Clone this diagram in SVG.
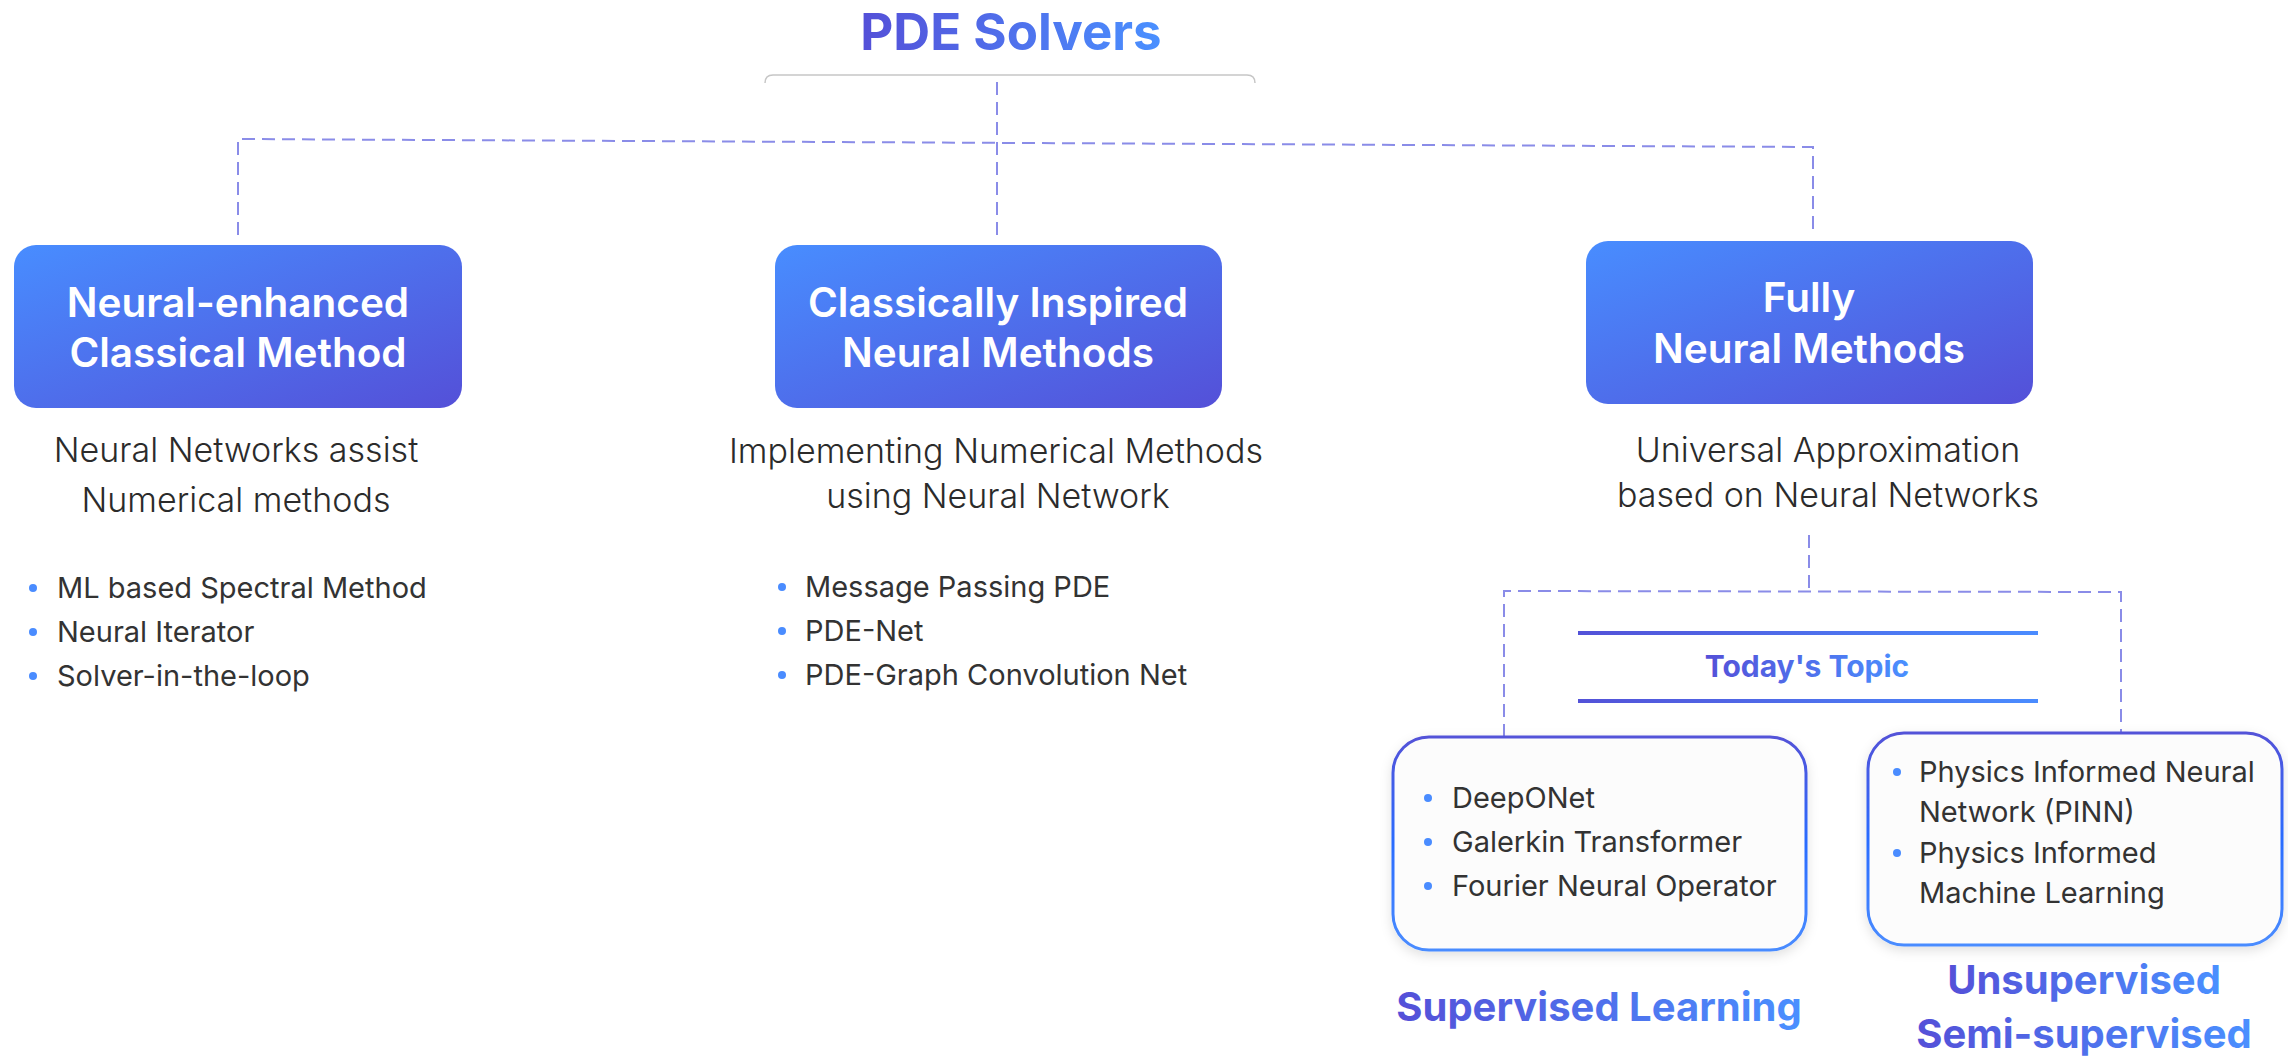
<svg xmlns="http://www.w3.org/2000/svg" width="2288" height="1058" viewBox="0 0 2288 1058">
<defs>
  <linearGradient id="gBox" x1="0" y1="0" x2="1" y2="1">
    <stop offset="0" stop-color="#488dff"/>
    <stop offset="1" stop-color="#5450d8"/>
  </linearGradient>
  <linearGradient id="gText" x1="0" y1="0" x2="1" y2="0">
    <stop offset="0" stop-color="#5450d8"/>
    <stop offset="1" stop-color="#4a90ff"/>
  </linearGradient>
  <linearGradient id="gLine" x1="0" y1="0" x2="1" y2="0">
    <stop offset="0" stop-color="#5352d8"/>
    <stop offset="1" stop-color="#4a8cff"/>
  </linearGradient>
  <linearGradient id="gBorder" x1="0" y1="0" x2="0" y2="1">
    <stop offset="0" stop-color="#5352d8"/>
    <stop offset="0.5" stop-color="#2a6cff"/>
    <stop offset="1" stop-color="#4a8cff"/>
  </linearGradient>
  <filter id="shadow" x="-10%" y="-10%" width="120%" height="130%">
    <feDropShadow dx="0" dy="4" stdDeviation="6" flood-color="#000" flood-opacity="0.12"/>
  </filter>
</defs>
<style>
  .t { font-family: Inter, "Noto Sans", sans-serif; }
  .title { font-size: 51px; font-weight: 700; fill: url(#gText); }
  .head { font-size: 40.5px; font-weight: 600; fill: #ffffff; text-anchor: middle; }
  .desc { font-size: 34px; font-weight: 300; fill: #2b2b2b; text-anchor: middle; }
  .item { font-size: 29px; font-weight: 400; fill: #333333; }
  .bullet { fill: #4a8cff; }
  .conn { fill: none; stroke: #8a8ce8; stroke-width: 2; stroke-dasharray: 13 7; }
  .topic { font-size: 30px; font-weight: 700; fill: url(#gText); text-anchor: middle; }
  .label { font-size: 40px; font-weight: 700; fill: url(#gText); text-anchor: middle; }
  .card { fill: #fcfcfc; stroke: url(#gBorder); stroke-width: 3; filter: url(#shadow); }
</style>

<g id="root">
  <text class="t title" x="1011" y="50" text-anchor="middle">PDE Solvers</text>
  <path d="M765,83 Q765,75 773,75 H1247 Q1255,75 1255,83" fill="none" stroke="#c6c6c6" stroke-width="1.5"/>
</g>

<g id="connectors">
  <path class="conn" d="M997,82 V235"/>
  <path class="conn" d="M238,235 V139 L1813,147 V236"/>
  <path class="conn" d="M1809,535 V591"/>
  <path class="conn" d="M1504,737 V591 L2121,592 V733"/>
</g>

<g id="node-neural-enhanced">
  <rect x="14" y="245" width="448" height="163" rx="22" fill="url(#gBox)"/>
  <text class="t head" x="238" y="317">Neural-enhanced</text>
  <text class="t head" x="238" y="367">Classical Method</text>
  <text class="t desc" x="236" y="462">Neural Networks assist</text>
  <text class="t desc" x="236" y="512">Numerical methods</text>
  <circle class="bullet" cx="33" cy="588" r="4"/>
  <circle class="bullet" cx="33" cy="632" r="4"/>
  <circle class="bullet" cx="33" cy="676" r="4"/>
  <text class="t item" x="57" y="598">ML based Spectral Method</text>
  <text class="t item" x="57" y="642">Neural Iterator</text>
  <text class="t item" x="57" y="686">Solver-in-the-loop</text>
</g>

<g id="node-classically-inspired">
  <rect x="775" y="245" width="447" height="163" rx="22" fill="url(#gBox)"/>
  <text class="t head" x="998" y="317">Classically Inspired</text>
  <text class="t head" x="998" y="367">Neural Methods</text>
  <text class="t desc" x="996" y="463">Implementing Numerical Methods</text>
  <text class="t desc" x="998" y="508">using Neural Network</text>
  <circle class="bullet" cx="782" cy="587" r="4"/>
  <circle class="bullet" cx="782" cy="631" r="4"/>
  <circle class="bullet" cx="782" cy="675" r="4"/>
  <text class="t item" x="805" y="597">Message Passing PDE</text>
  <text class="t item" x="805" y="641">PDE-Net</text>
  <text class="t item" x="805" y="685">PDE-Graph Convolution Net</text>
</g>

<g id="node-fully-neural">
  <rect x="1586" y="241" width="447" height="163" rx="22" fill="url(#gBox)"/>
  <text class="t head" x="1809" y="312">Fully</text>
  <text class="t head" x="1809" y="363">Neural Methods</text>
  <text class="t desc" x="1828" y="462">Universal Approximation</text>
  <text class="t desc" x="1828" y="507">based on Neural Networks</text>
</g>

<g id="node-todays-topic">
  <rect x="1578" y="631" width="460" height="4" fill="url(#gLine)"/>
  <text class="t topic" x="1807" y="677">Today's Topic</text>
  <rect x="1578" y="699" width="460" height="4" fill="url(#gLine)"/>
</g>

<g id="node-supervised">
  <rect class="card" x="1393" y="737" width="413" height="213" rx="36"/>
  <circle class="bullet" cx="1428" cy="798" r="4"/>
  <circle class="bullet" cx="1428" cy="842" r="4"/>
  <circle class="bullet" cx="1428" cy="886" r="4"/>
  <text class="t item" x="1452" y="808">DeepONet</text>
  <text class="t item" x="1452" y="852">Galerkin Transformer</text>
  <text class="t item" x="1452" y="896">Fourier Neural Operator</text>
  <text class="t label" x="1599" y="1021">Supervised Learning</text>
</g>

<g id="node-unsupervised">
  <rect class="card" x="1868" y="733" width="414" height="212" rx="36"/>
  <circle class="bullet" cx="1897" cy="772" r="4"/>
  <circle class="bullet" cx="1897" cy="853" r="4"/>
  <text class="t item" x="1919" y="782">Physics Informed Neural</text>
  <text class="t item" x="1919" y="822">Network (PINN)</text>
  <text class="t item" x="1919" y="863">Physics Informed</text>
  <text class="t item" x="1919" y="903">Machine Learning</text>
  <text class="t label" x="2084" y="994">Unsupervised</text>
  <text class="t label" x="2084" y="1048">Semi-supervised</text>
</g>
</svg>
